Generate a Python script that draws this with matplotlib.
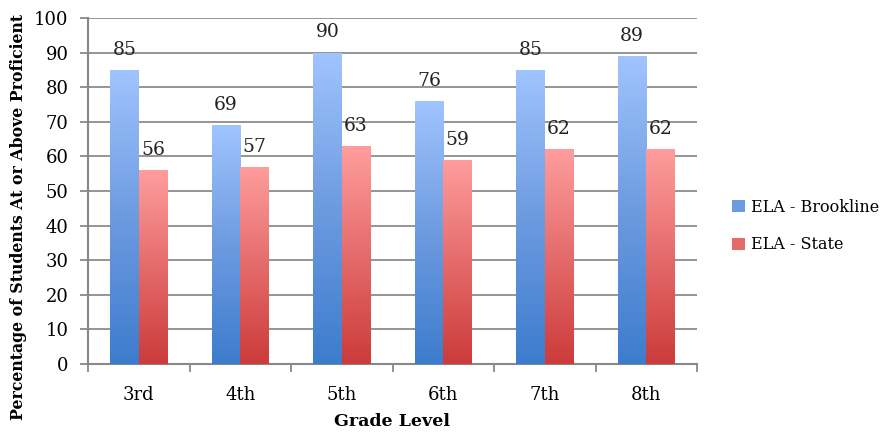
import numpy as np
import matplotlib
matplotlib.use("Agg")
import matplotlib.pyplot as plt
from matplotlib.colors import LinearSegmentedColormap
from matplotlib.patches import Patch

grades = ["3rd", "4th", "5th", "6th", "7th", "8th"]
brookline = [85, 69, 90, 76, 85, 89]
state = [56, 57, 63, 59, 62, 62]
series_names = ["ELA - Brookline", "ELA - State"]

plt.rcParams['font.family'] = ['DejaVu Serif']

fig = plt.figure(figsize=(8.86, 4.32), dpi=100)
ax = fig.add_axes([88/886, 1-364/432, (697-88)/886, (364-18)/432])

x = np.arange(len(grades))
w = 0.28
blue_cmap = LinearSegmentedColormap.from_list("b", ["#3d7ccd", "#6d9be0", "#a0c4fe"])
red_cmap = LinearSegmentedColormap.from_list("r", ["#cc3b3b", "#e56b6b", "#ff9d9d"])

grad = np.linspace(0, 1, 256).reshape(-1, 1)
for vals, offs, cmap in [(brookline, -w/2, blue_cmap), (state, w/2, red_cmap)]:
    bars = ax.bar(x + offs, vals, w, color='none', edgecolor='none', zorder=3)
    for b, v in zip(bars, vals):
        x0 = b.get_x(); x1 = x0 + b.get_width()
        im = ax.imshow(grad, cmap=cmap, origin='lower', aspect='auto',
                       extent=[x0, x1, 0, v], zorder=3)
        im.set_clip_path(b)
        ax.annotate(str(v), (b.get_x() + b.get_width()/2, v), xytext=(0, 8),
                    textcoords='offset points', ha='center', va='bottom',
                    fontsize=13.5, color='#222222', zorder=5)

ax.set_xlim(-0.5, len(grades) - 0.5)
ax.set_ylim(0, 100)
ax.set_yticks(range(0, 101, 10))
ax.set_xticks(x)
ax.set_xticklabels(grades)
ax.set_xticks(np.arange(-0.5, len(grades)), minor=True)
ax.tick_params(axis='x', which='major', length=0, pad=16, labelsize=13)
ax.tick_params(axis='x', which='minor', length=6, width=1.3, color='#888888', direction='out')
ax.tick_params(axis='y', length=6, width=1.3, color='#888888', labelsize=13, pad=8)
ax.grid(axis='y', color='#8c8c8c', linewidth=1.3, zorder=0)
ax.set_axisbelow(True)
for s in ['top', 'right']:
    ax.spines[s].set_visible(False)
for s in ['left', 'bottom']:
    ax.spines[s].set_color('#888888')
    ax.spines[s].set_linewidth(1.5)

ax.set_xlabel("Grade Level", fontsize=12.5, fontweight='bold', labelpad=6)
fig.text(19/886, 1-420/432, "Percentage of Students At or Above Proficient",
         rotation=90, fontsize=11.3, fontweight='bold', ha='center', va='bottom')

handles = [Patch(facecolor="#6d9be0", edgecolor='none'), Patch(facecolor="#e56b6b", edgecolor='none')]
fig.legend(handles, series_names, loc='center left', bbox_to_anchor=(718/886, 1-226/432),
           frameon=False, fontsize=11.5, handlelength=0.8, handleheight=0.8,
           handletextpad=0.35, labelspacing=1.3)

fig.savefig("out.png", dpi=100)
